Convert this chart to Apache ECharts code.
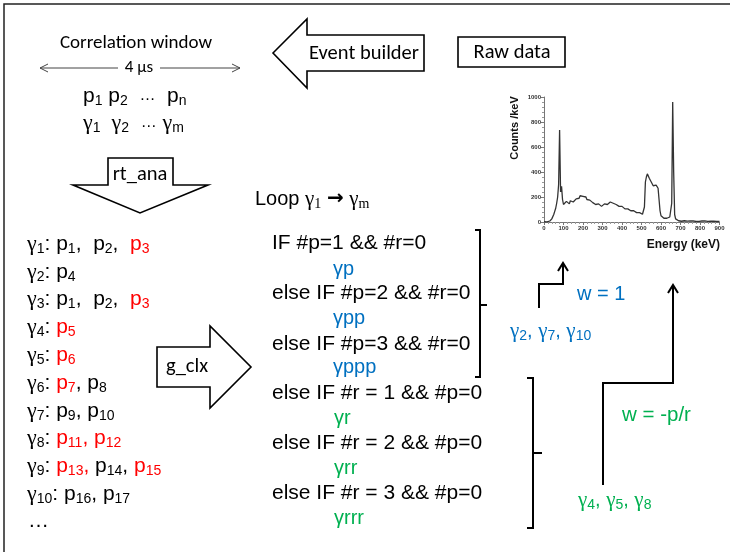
<!DOCTYPE html>
<html>
<head>
<meta charset="utf-8">
<script src="https://cdn.jsdelivr.net/npm/echarts@6/dist/echarts.min.js"></script>
<style>
  html, body { margin: 0; padding: 0; background: #fff; }
  #chart { width: 730px; height: 552px; }
</style>
</head>
<body>
<div id="chart"></div>
<script>
// Raw gamma spectrum (inset): energy bins in keV and counts per keV
const energyKeV = [
  0, 5, 10, 15, 20, 25, 30, 35, 40, 45,
  50, 55, 60, 65, 70, 75, 80, 85, 90, 95,
  100, 105, 110, 115, 120, 125, 130, 135, 140, 145,
  150, 155, 160, 165, 170, 175, 180, 185, 190, 195,
  200, 205, 210, 215, 220, 225, 230, 235, 240, 245,
  250, 255, 260, 265, 270, 275, 280, 285, 290, 295,
  300, 305, 310, 315, 320, 325, 330, 335, 340, 345,
  350, 355, 360, 365, 370, 375, 380, 385, 390, 395,
  400, 405, 410, 415, 420, 425, 430, 435, 440, 445,
  450, 455, 460, 465, 470, 475, 480, 485, 490, 495,
  500, 505, 510, 515, 520, 525, 530, 535, 540, 545,
  550, 555, 560, 565, 570, 575, 580, 585, 590, 595,
  600, 605, 610, 615, 620, 625, 630, 635, 640, 645,
  650, 655, 660, 665, 670, 675, 680, 685, 690, 695,
  700, 705, 710, 715, 720, 725, 730, 735, 740, 745,
  750, 755, 760, 765, 770, 775, 780, 785, 790, 795,
  800, 805, 810, 815, 820, 825, 830, 835, 840, 845,
  850, 855, 860, 865, 870, 875, 880, 885, 890, 895,
  900
];
const countsPerKeV = [
  2, 1, 0, 1, 2, 4, 8, 15, 25, 40,
  60, 85, 110, 150, 200, 300, 735, 240, 285, 180,
  140, 155, 135, 165, 150, 160, 145, 170, 155, 165,
  160, 175, 165, 185, 175, 195, 190, 210, 200, 220,
  205, 215, 190, 200, 180, 185, 170, 175, 160, 170,
  155, 165, 150, 140, 150, 135, 145, 130, 140, 125,
  140, 130, 145, 135, 150, 140, 155, 145, 160, 150,
  160, 150, 155, 145, 140, 135, 140, 125, 130, 120,
  125, 110, 115, 105, 110, 100, 105, 95, 100, 90,
  95, 85, 90, 80, 85, 75, 80, 70, 75, 65,
  70, 62, 55, 120, 320, 360, 385, 370, 350, 335,
  320, 305, 290, 280, 300, 295, 310, 270, 180, 90,
  50, 35, 40, 30, 35, 25, 30, 28, 35, 40,
  45, 150, 960, 400, 60, 25, 15, 12, 10, 8,
  10, 6, 12, 8, 10, 5, 9, 7, 11, 6,
  8, 10, 5, 9, 6, 8, 4, 7, 9, 5,
  7, 5, 8, 4, 6, 9, 3, 6, 5, 7,
  4, 6, 3, 5, 7, 2, 5, 4, 6, 3,
  4
];
const energyTicks = [0, 100, 200, 300, 400, 500, 600, 700, 800, 900];
const countTicks = [0, 200, 400, 600, 800, 1000];

// Gamma -> particle assignments; each item: [index, isRejected]
const gammaRows = [
  ['1', [['1', 0], ['2', 0], ['3', 1]]],
  ['2', [['4', 0]]],
  ['3', [['1', 0], ['2', 0], ['3', 1]]],
  ['4', [['5', 1]]],
  ['5', [['6', 1]]],
  ['6', [['7', 1], ['8', 0]]],
  ['7', [['9', 0], ['10', 0]]],
  ['8', [['11', 1], ['12', 1]]],
  ['9', [['13', 1], ['14', 0], ['15', 1]]],
  ['10', [['16', 0], ['17', 0]]]
];
// rows typed with wider separators after the subscripts
const wideSeparatorRows = ['1', '3'];

// Classification branches
const protonBranches = ['IF #p=1 && #r=0', 'else IF #p=2 && #r=0', 'else IF #p=3 && #r=0'];
const protonLabels = ['γp', 'γpp', 'γppp'];
const rejectBranches = ['else IF #r = 1 && #p=0', 'else IF #r = 2 && #p=0', 'else IF #r = 3 && #p=0'];
const rejectLabels = ['γr', 'γrr', 'γrrr'];

const SANS = 'Liberation Sans';
const SERIF = 'Liberation Serif';
const CAL = 'Carlito, Lato';
const BLUE = '#0070C0';
const GREEN = '#00B050';
const RED = '#FF0000';

function tok(size, family, fill, lh, shift, weight) {
  const t = { fontSize: size, fontFamily: family, fill: fill, color: fill, lineHeight: lh };
  if (shift) t.padding = [shift, 0, 0, 0];
  if (weight) t.fontWeight = weight;
  return t;
}
// rich-text token styles for labels with subscripts
function richSet(size, subSize, lh, shift) {
  return {
    t:  tok(size, SANS, '#000', lh),
    e:  tok(size - 5, SANS, '#000', lh),
    a:  tok(size, 'DejaVu Sans', '#000', lh, 0, 'bold'),
    r:  tok(size, SANS, RED, lh),
    g:  tok(size + 1, SERIF, '#000', lh),
    s:  tok(subSize, SANS, '#000', lh, shift),
    rs: tok(subSize, SANS, RED, lh, shift),
    ss: tok(subSize, SERIF, '#000', lh, shift),
    b:  tok(size, SANS, BLUE, lh),
    bg: tok(size + 1, SERIF, BLUE, lh),
    bs: tok(subSize, SANS, BLUE, lh, shift),
    gr: tok(size, SANS, GREEN, lh),
    gg: tok(size + 1, SERIF, GREEN, lh),
    gs: tok(subSize, SANS, GREEN, lh, shift)
  };
}
const rich21 = richSet(21, 14, 28, 10);
const rich20 = richSet(20, 14, 28, 10);

function text(x, y, str, size, family, fill, align, weight) {
  return {
    type: 'text', x: x, y: y, z: 10,
    style: { text: str, fontSize: size, fontFamily: family, fontWeight: weight || 'normal',
             fill: fill || '#000',
             align: align || 'left', textAlign: align || 'left',
             verticalAlign: 'middle', textVerticalAlign: 'middle' }
  };
}
function richText(x, y, str, rich) {
  return {
    type: 'text', x: x, y: y, z: 10,
    style: { text: str, rich: rich, align: 'left', textAlign: 'left',
             verticalAlign: 'middle', textVerticalAlign: 'middle' }
  };
}
function line(points, width, color) {
  return { type: 'polyline', z: 10, shape: { points: points },
           style: { stroke: color || '#000', lineWidth: width || 2, fill: null } };
}
function block(points) {
  return { type: 'polygon', z: 10, shape: { points: points },
           style: { stroke: '#000', lineWidth: 1.6, fill: '#fff' } };
}

const gfx = [];

// slide frame
gfx.push(line([[4, 552], [4, 4], [730, 4]], 1.5, '#222'));

// correlation window
gfx.push(text(136, 43, 'Correlation window', 19, CAL, '#000', 'center'));
gfx.push(text(139, 68, '4 μs', 17, CAL, '#000', 'center'));
gfx.push(line([[40, 68], [118, 68]], 1, '#444'));
gfx.push(line([[48, 64], [40, 68], [48, 72]], 1, '#444'));
gfx.push(line([[160, 68], [240, 68]], 1, '#444'));
gfx.push(line([[232, 64], [240, 68], [232, 72]], 1, '#444'));
gfx.push(richText(83, 96, '{t|p}{s|1}{t| p}{s|2}{t|  }{e|…}{t|  p}{s|n}', rich21));
gfx.push(richText(83, 123, '{g|γ}{s|1}{g|  γ}{s|2}{t|  }{e|…}{t| }{g|γ}{s|m}', rich21));

// event builder arrow and raw data box
gfx.push(block([[273, 53], [307, 19], [307, 35], [424, 35], [424, 71], [307, 71], [307, 88]]));
gfx.push(text(364, 54, 'Event builder', 20.5, CAL, '#000', 'center'));
gfx.push({ type: 'rect', z: 10, shape: { x: 458, y: 37, width: 107, height: 30 },
           style: { stroke: '#000', lineWidth: 1.6, fill: '#fff' } });
gfx.push(text(512, 53, 'Raw data', 20.5, CAL, '#000', 'center'));

// rt_ana arrow
gfx.push(block([[108, 158], [173, 158], [173, 185], [208, 185], [140, 213], [73, 185], [108, 185]]));
gfx.push(text(140, 175, 'rt_ana', 20.5, CAL, '#000', 'center'));

// gamma list
gammaRows.forEach(function (row, i) {
  const sep = wideSeparatorRows.indexOf(row[0]) >= 0 ? ',  ' : ', ';
  let s = '{g|γ}{s|' + row[0] + '}{t|: }';
  row[1].forEach(function (p, k) {
    const red = p[1] === 1;
    s += (red ? '{r|p}{rs|' : '{t|p}{s|') + p[0] + '}';
    if (k < row[1].length - 1) {
      const commaRed = red && !(row[0] === '6');
      s += (commaRed ? '{r|' : '{t|') + sep + '}';
    }
  });
  gfx.push(richText(27, 244 + i * 27.8, s, rich21));
});
gfx.push(text(28, 521, '…', 21, SANS, '#000', 'left'));

// g_clx arrow
gfx.push(block([[157, 347], [210, 347], [210, 326], [251, 367], [210, 408], [210, 387], [157, 387]]));
gfx.push(text(166, 367, 'g_clx', 20.5, CAL, '#000', 'left'));

// loop header
gfx.push(richText(255, 199, '{t|Loop }{g|γ}{ss|1}{t| }{a|→}{t| }{g|γ}{ss|m}', rich20));

// proton-only branches
protonBranches.forEach(function (b, i) {
  gfx.push(text(272, 243 + i * 50.5, b, 21, SANS, '#000', 'left'));
  gfx.push(text(333, 269 + i * 49, protonLabels[i], 20, SANS, BLUE, 'left'));
});
gfx.push(line([[475, 230], [480, 230], [480, 377], [475, 377]], 2));
gfx.push(line([[480, 305], [487, 305]], 2));

// rejected-particle branches
rejectBranches.forEach(function (b, i) {
  gfx.push(text(272, 393 + i * 50, b, 21, SANS, '#000', 'left'));
  gfx.push(text(334, 418 + i * 50, rejectLabels[i], 20, SANS, GREEN, 'left'));
});
gfx.push(line([[527, 378], [533, 378], [533, 528], [527, 528]], 2));
gfx.push(line([[533, 453], [542, 453]], 2));

// weights and routing arrows
gfx.push(richText(510, 331, '{bg|γ}{bs|2}{b|, }{bg|γ}{bs|7}{b|, }{bg|γ}{bs|10}', rich20));
gfx.push(text(577, 294, 'w = 1', 20, SANS, BLUE, 'left'));
gfx.push(line([[539, 308], [539, 284], [563, 284], [563, 263]], 2));
gfx.push(line([[558, 271], [563, 263], [568, 271]], 2));

gfx.push(richText(578, 500, '{gg|γ}{gs|4}{gr|, }{gg|γ}{gs|5}{gr|, }{gg|γ}{gs|8}', rich20));
gfx.push(text(622, 415, 'w = -p/r', 20.5, SANS, GREEN, 'left'));
gfx.push(line([[603, 485], [603, 383], [673, 383], [673, 285]], 2));
gfx.push(line([[668, 293], [673, 285], [678, 293]], 2));

// inset axis titles
gfx.push({ type: 'text', x: 515, y: 128, rotation: Math.PI / 2, z: 10,
           style: { text: 'Counts /keV', fontSize: 11, fontWeight: 'bold', fontFamily: SANS,
                    fill: '#111', align: 'center', textAlign: 'center',
                    verticalAlign: 'middle', textVerticalAlign: 'middle' } });
gfx.push(text(720, 245, 'Energy (keV)', 12, SANS, '#111', 'right', 'bold'));

const chart = echarts.init(document.getElementById('chart'), null, { renderer: 'canvas' });
chart.setOption({
  animation: false,
  backgroundColor: '#fff',
  grid: { left: 544, top: 97, width: 175.5, height: 125, containLabel: false },
  xAxis: {
    type: 'value', min: energyTicks[0], max: energyTicks[energyTicks.length - 1], interval: 100,
    axisLine: { show: true, onZero: false, lineStyle: { color: '#777', width: 1 } },
    axisTick: { show: true, length: 3, lineStyle: { color: '#777' } },
    minorTick: { show: true, splitNumber: 5, length: 2, lineStyle: { color: '#999' } },
    axisLabel: { fontSize: 6, fontWeight: 'bold', color: '#333', margin: 3, fontFamily: SANS,
                 formatter: function (v) { return String(v); } },
    splitLine: { show: false }
  },
  yAxis: {
    type: 'value', min: countTicks[0], max: countTicks[countTicks.length - 1], interval: 200,
    axisLine: { show: true, lineStyle: { color: '#777', width: 1 } },
    axisTick: { show: true, length: 3, lineStyle: { color: '#777' } },
    minorTick: { show: true, splitNumber: 5, length: 2, lineStyle: { color: '#999' } },
    axisLabel: { fontSize: 6, fontWeight: 'bold', color: '#333', margin: 3, fontFamily: SANS,
                 formatter: function (v) { return String(v); } },
    splitLine: { show: false }
  },
  series: [{
    type: 'line',
    data: energyKeV.map(function (e, i) { return [e, countsPerKeV[i]]; }),
    showSymbol: false,
    lineStyle: { color: '#333', width: 1.3 },
    clip: true
  }],
  graphic: { elements: gfx }
});
</script>
</body>
</html>
